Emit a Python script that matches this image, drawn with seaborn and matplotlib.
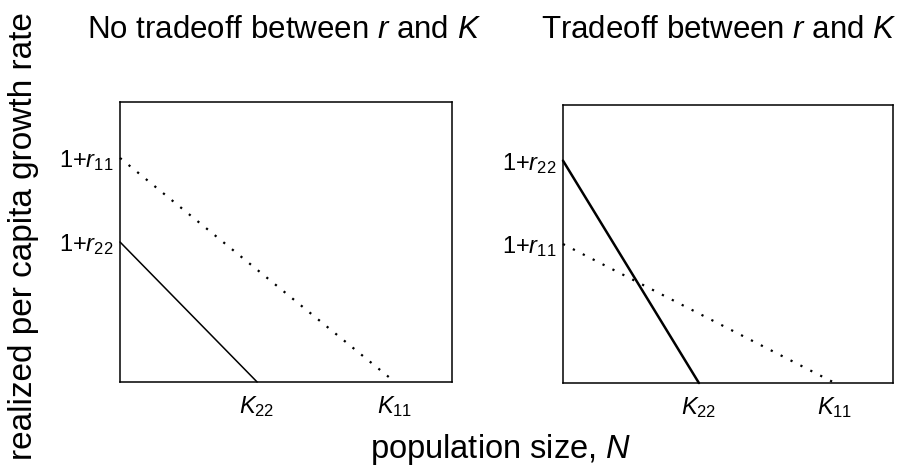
import numpy as np
import pandas as pd
import seaborn as sns
import matplotlib
matplotlib.use("Agg")
import matplotlib.pyplot as plt

# values (axes run 0..1 in both directions)
panels = ["No tradeoff between $r$ and $K$", "Tradeoff between $r$ and $K$"]
r11 = [0.80, 0.50]   # 1 + r11 intercept, left / right
r22 = [0.50, 0.80]   # 1 + r22 intercept
K11 = [0.828, 0.824]
K22 = [0.413, 0.412]
ylabels_11 = r"$1{+}\mathit{r}_{11}$"
ylabels_22 = r"$1{+}\mathit{r}_{22}$"
xlabels_11 = r"$K_{11}$"
xlabels_22 = r"$K_{22}$"

sns.set_theme(style="white")
plt.rcParams["font.family"] = ["Liberation Sans", "DejaVu Sans"]
plt.rcParams["mathtext.fontset"] = "custom"
plt.rcParams["mathtext.rm"] = "Liberation Sans"
plt.rcParams["mathtext.it"] = "Liberation Sans:italic"
plt.rcParams["mathtext.bf"] = "Liberation Sans:bold"

fig = plt.figure(figsize=(9.07, 4.68), dpi=100)
boxes = [[0.1323, 0.1838, 0.3660, 0.5983], [0.6207, 0.1816, 0.3638, 0.5940]]
solid_lw = [1.1, 1.8]
title_x = [0.3126, 0.7927]

for i in range(2):
    ax = fig.add_axes(boxes[i])
    sp1 = pd.DataFrame({"N": [0, K11[i]], "g": [r11[i], 0]})
    sp2 = pd.DataFrame({"N": [0, K22[i]], "g": [r22[i], 0]})
    sns.lineplot(data=sp1, x="N", y="g", ax=ax, color="black", lw=1.6,
                 linestyle=(0, (1, 4)), clip_on=False)
    sns.lineplot(data=sp2, x="N", y="g", ax=ax, color="black", lw=solid_lw[i],
                 clip_on=False)
    ax.set_xlim(0, 1)
    ax.set_ylim(0, 1)
    ax.set_xlabel("")
    ax.set_ylabel("")
    ax.set_yticks([r11[i], r22[i]])
    ax.set_yticklabels([ylabels_11, ylabels_22], fontsize=17)
    ax.set_xticks([K22[i], K11[i]])
    ax.set_xticklabels([xlabels_22, xlabels_11], fontsize=17)
    ax.tick_params(axis="y", length=0, pad=5, colors="black")
    ax.tick_params(axis="x", length=0, pad=9, colors="black")
    for s in ax.spines.values():
        s.set_color("black")
        s.set_linewidth(1.1)
    fig.text(title_x[i], 1 - 38 / 468, panels[i], ha="center", va="baseline",
             fontsize=22.5, color="black")

fig.text(24 / 907, 1 - 236 / 468, "realized per capita growth rate", rotation=90,
         ha="center", va="center", fontsize=24, color="black")
fig.text(501 / 907, 1 - 458 / 468, "population size, $N$", ha="center",
         va="baseline", fontsize=23.5, color="black")

fig.savefig("out.png", dpi=100)
